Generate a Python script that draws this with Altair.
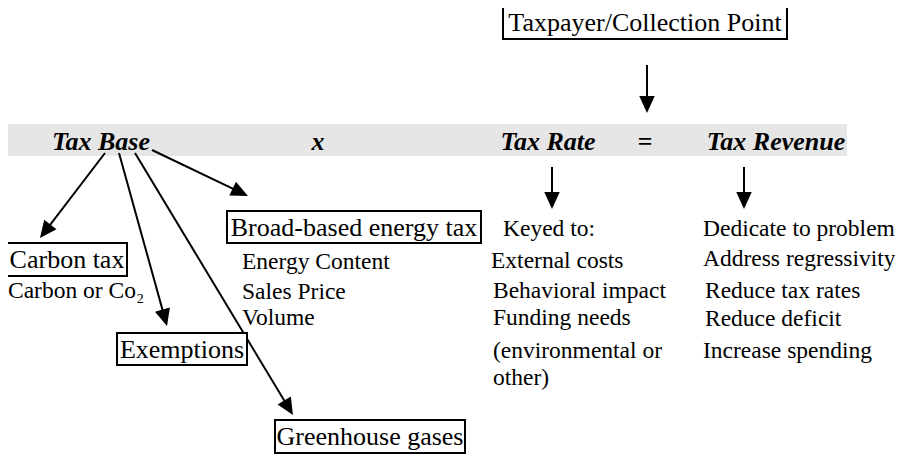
import altair as alt
import pandas as pd
import numpy as np

# ---- diagram content (coordinates in page pixels) ----
band_x1 = [7]
band_x2 = [847]
band_y1 = [124]
band_y2 = [156]

heading_text = ["Tax Base", "x", "Tax Rate", "=", "Tax Revenue"]
heading_x = [101, 318, 548, 645, 776]
heading_y = [150, 150, 150, 150, 150]

box_labels = ["Taxpayer/Collection Point", "Broad-based energy tax", "Carbon tax",
              "Exemptions", "Greenhouse gases"]
box_x1 = [503, 227, 7, 117, 275]
box_x2 = [787, 481, 127, 247, 465]
box_y1 = [5, 211, 243, 333, 420]
box_y2 = [39, 243, 276, 365, 453]
box_base = [30.5, 235.5, 268, 357.5, 445]

body_text = ["Carbon or Co\u2082",
             "Energy Content", "Sales Price", "Volume",
             "Keyed to:", "External costs", "Behavioral impact", "Funding needs",
             "(environmental or", "other)",
             "Dedicate to problem", "Address regressivity", "Reduce tax rates",
             "Reduce deficit", "Increase spending"]
body_x = [8,
          242, 242, 242,
          503, 491, 493, 493, 493, 493,
          703, 703, 705, 705, 703]
body_y = [298,
          269, 299, 325,
          236, 268, 298, 325, 358, 385,
          236, 266, 298, 326, 358]

arrow_x1 = [647, 552, 744, 105, 119, 135, 152]
arrow_y1 = [65, 167, 167, 153, 153, 153, 150]
arrow_x2 = [647, 552, 744, 40, 167, 293, 248]
arrow_y2 = [113, 209, 209, 238, 326, 415, 196]

W, H = 887, 446
FONT = "Liberation Serif"

xs = alt.Scale(domain=[8, 8 + W], range=[0, W], nice=False, zero=False)
ys = alt.Scale(domain=[8, 8 + H], range=[0, H], nice=False, zero=False)

band = pd.DataFrame({"x1": band_x1, "x2": band_x2, "y1": band_y1, "y2": band_y2})
heads = pd.DataFrame({"t": heading_text, "x": heading_x, "y": heading_y})
boxes = pd.DataFrame({"t": box_labels, "x1": box_x1, "x2": box_x2, "y1": box_y1,
                      "y2": box_y2, "b": box_base})
boxes["cx"] = (boxes["x1"] + boxes["x2"]) / 2
body = pd.DataFrame({"t": body_text, "x": body_x, "y": body_y})

arr = pd.DataFrame({"x1": arrow_x1, "y1": arrow_y1, "x2": arrow_x2, "y2": arrow_y2})
dx = arr["x2"] - arr["x1"]
dy = arr["y2"] - arr["y1"]
L = np.sqrt(dx ** 2 + dy ** 2)
arr["sx"] = arr["x2"] - dx / L * 10
arr["sy"] = arr["y2"] - dy / L * 10
arr["ang"] = np.mod(np.degrees(np.arctan2(dx, -dy)), 360)

band_l = alt.Chart(band).mark_rect(color="#e6e6e6").encode(
    x=alt.X("x1:Q", scale=xs, axis=None), x2="x2:Q",
    y=alt.Y("y1:Q", scale=ys, axis=None), y2="y2:Q")

box_l = alt.Chart(boxes).mark_rect(fill="white", stroke="black", strokeWidth=2).encode(
    x=alt.X("x1:Q", scale=xs, axis=None), x2="x2:Q",
    y=alt.Y("y1:Q", scale=ys, axis=None), y2="y2:Q")

box_t = alt.Chart(boxes).mark_text(font=FONT, fontSize=26, align="center",
                                   baseline="alphabetic", color="black").encode(
    x=alt.X("cx:Q", scale=xs, axis=None), y=alt.Y("b:Q", scale=ys, axis=None), text="t:N")

head_t = alt.Chart(heads).mark_text(font=FONT, fontSize=26, fontStyle="italic",
                                    fontWeight="bold", align="center",
                                    baseline="alphabetic", color="black").encode(
    x=alt.X("x:Q", scale=xs, axis=None), y=alt.Y("y:Q", scale=ys, axis=None), text="t:N")

body_t = alt.Chart(body).mark_text(font=FONT, fontSize=23.5, align="left",
                                   baseline="alphabetic", color="black").encode(
    x=alt.X("x:Q", scale=xs, axis=None), y=alt.Y("y:Q", scale=ys, axis=None), text="t:N")

shafts = alt.Chart(arr).mark_rule(color="black", strokeWidth=2).encode(
    x=alt.X("x1:Q", scale=xs, axis=None), x2="sx:Q",
    y=alt.Y("y1:Q", scale=ys, axis=None), y2="sy:Q")

heads_l = alt.Chart(arr).mark_point(shape="M0,0L-1,2.2L1,2.2Z", filled=True,
                                    color="black", size=240, opacity=1).encode(
    x=alt.X("x2:Q", scale=xs, axis=None), y=alt.Y("y2:Q", scale=ys, axis=None),
    angle=alt.Angle("ang:Q", scale=None))

chart = alt.layer(band_l, head_t, shafts, heads_l, box_l, box_t, body_t).properties(
    width=W, height=H, padding=0, autosize="none", background="white"
).configure_view(stroke=None)

chart.save("out.html", embed_options={"renderer": "svg", "actions": False})
